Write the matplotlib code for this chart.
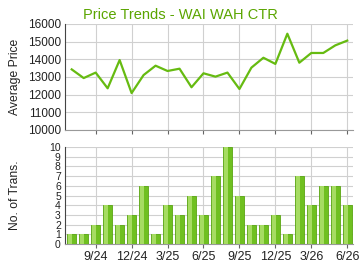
import matplotlib
matplotlib.use("Agg")
import matplotlib.pyplot as plt
import numpy as np

months = ["7/24","8/24","9/24","10/24","11/24","12/24","1/25","2/25","3/25","4/25","5/25","6/25",
          "7/25","8/25","9/25","10/25","11/25","12/25","1/26","2/26","3/26","4/26","5/26","6/26"]
prices = [13430, 12940, 13250, 12360, 13960, 12090, 13110, 13640, 13340, 13470, 12420, 13210,
          13020, 13250, 12320, 13530, 14090, 13740, 15450, 13810, 14360, 14360, 14790, 15060]
trans = [1, 1, 2, 4, 2, 3, 6, 1, 4, 3, 5, 3, 7, 10, 5, 2, 2, 3, 1, 7, 4, 6, 6, 4]
tick_labels = ["9/24", "12/24", "3/25", "6/25", "9/25", "12/25", "3/26", "6/26"]

plt.rcParams['font.family'] = ['Liberation Sans', 'DejaVu Sans']

fig = plt.figure(figsize=(3.6, 2.7), dpi=100)
W, H = 360, 270
def axbox(l, t, r, b):
    return [l / W, 1 - b / H, (r - l) / W, (b - t) / H]

x = np.arange(len(months))
tick_pos = [months.index(m) for m in tick_labels]
xlim = (-0.56, 23.48)
grid_c = '#d0d0d0'

ax1 = fig.add_axes(axbox(65, 24, 353, 130))
ax1.plot(x, prices, color='#66bb11', lw=1.6, zorder=3)
ax1.set_xlim(*xlim)
ax1.set_ylim(10000, 16000)
ax1.set_yticks(range(10000, 16001, 1000))
ax1.set_xticks(tick_pos)
ax1.set_xticklabels([])
ax1.grid(True, color=grid_c, lw=0.8)
ax1.set_axisbelow(True)
for s in ['top', 'right']:
    ax1.spines[s].set_visible(False)
ax1.spines['left'].set_color('#444444')
ax1.spines['bottom'].set_color('#999999')
ax1.tick_params(axis='y', length=0, labelsize=8.5, colors='#222222', pad=3)
ax1.tick_params(axis='x', length=3, color='#666666')
ax1.set_ylabel('Average Price', fontsize=8.7, color='#222222')
ax1.yaxis.set_label_coords(-44 / 288, 0.5)
fig.text(0.5, 1 - 15 / H, 'Price Trends - WAI WAH CTR', fontsize=10.5, color='#5aa500',
         ha='center', va='center')

ax2 = fig.add_axes(axbox(65, 147, 353, 244))
ax2.bar(x, trans, width=0.72, color='#6fc020', edgecolor='#5aa612', lw=0.6, zorder=3)
ax2.bar(x - 0.12, trans, width=0.36, color='#a6dc62', lw=0, zorder=4)
ax2.set_xlim(*xlim)
ax2.set_ylim(0, 10)
ax2.set_yticks(range(0, 11))
ax2.set_xticks(tick_pos)
ax2.set_xticklabels(tick_labels)
ax2.grid(True, color=grid_c, lw=0.8)
ax2.set_axisbelow(True)
for s in ['top', 'right']:
    ax2.spines[s].set_visible(False)
ax2.spines['left'].set_color('#444444')
ax2.spines['bottom'].set_color('#999999')
ax2.tick_params(axis='y', length=0, labelsize=7.5, colors='#222222', pad=3)
ax2.tick_params(axis='x', length=3, color='#666666', labelsize=9, colors='#222222', pad=2)
ax2.set_ylabel('No. of Trans.', fontsize=8.7, color='#222222')
ax2.yaxis.set_label_coords(-44 / 288, 0.5)

fig.savefig('out.png', dpi=100)
